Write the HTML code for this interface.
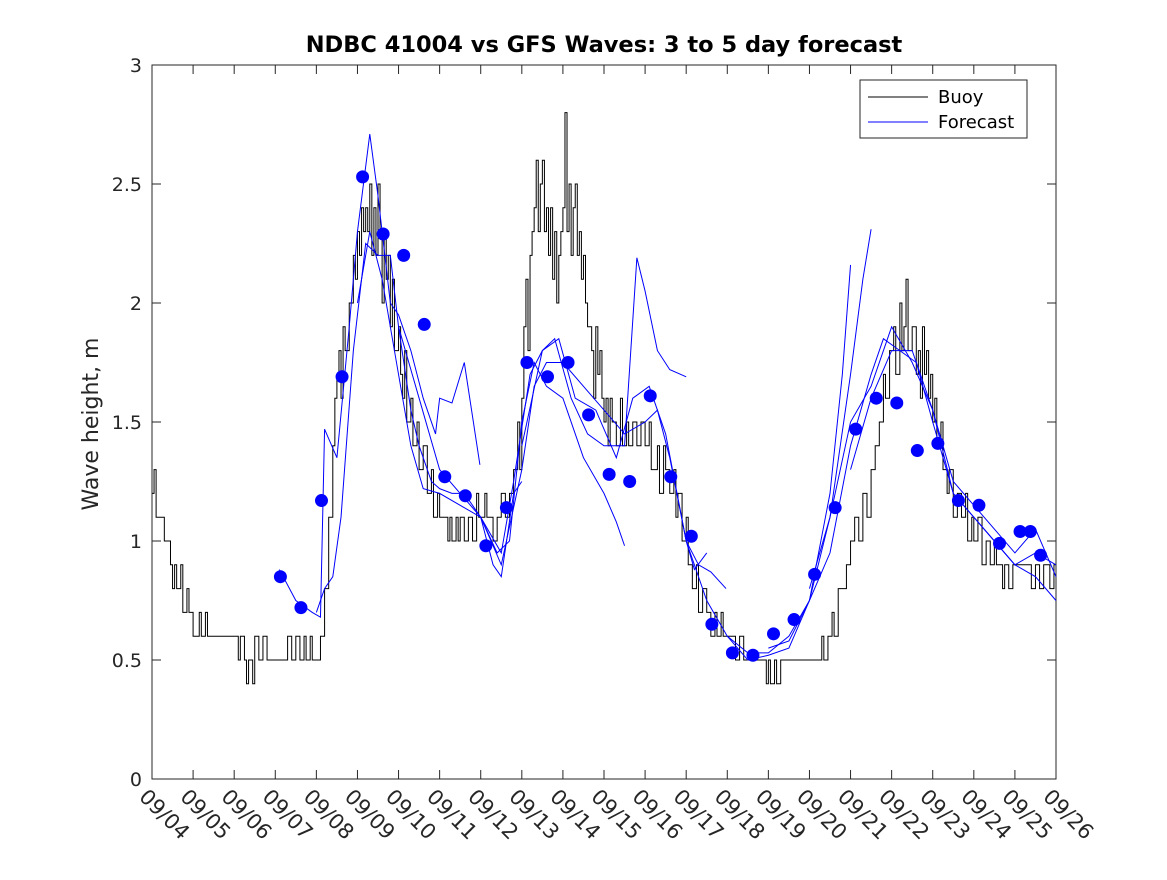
<!DOCTYPE html>
<html><head><meta charset="utf-8"><style>
body{margin:0;background:#fff;}
svg text{font-family:"DejaVu Sans","Liberation Sans",sans-serif;}
</style></head><body>
<svg id="chart" width="1167" height="875" xmlns="http://www.w3.org/2000/svg">
<rect width="1167" height="875" fill="#fff"/>
<text x="604" y="52" text-anchor="middle" font-size="22.5" font-weight="bold">NDBC 41004 vs GFS Waves: 3 to 5 day forecast</text>
<text transform="translate(98,424) rotate(-90)" text-anchor="middle" font-size="22" fill="#262626">Wave height, m</text>
<g id="plot"></g>
</svg>
<script>
const xTickLabels=["09/04","09/05","09/06","09/07","09/08","09/09","09/10","09/11","09/12","09/13","09/14","09/15","09/16","09/17","09/18","09/19","09/20","09/21","09/22","09/23","09/24","09/25","09/26"];
const yTicks=[0,0.5,1,1.5,2,2.5,3];
const buoyPoints=[[0,1.2],[0.05,1.3],[0.1,1.1],[0.3,1.0],[0.45,0.9],[0.5,0.8],[0.55,0.9],[0.6,0.8],[0.7,0.9],[0.75,0.7],[0.85,0.8],[0.9,0.7],[1.0,0.6],[1.15,0.7],[1.2,0.6],[1.3,0.7],[1.35,0.6],[2.0,0.6],[2.1,0.5],[2.15,0.6],[2.25,0.5],[2.3,0.4],[2.35,0.5],[2.45,0.4],[2.5,0.6],[2.6,0.5],[2.7,0.6],[2.8,0.5],[3.2,0.5],[3.3,0.6],[3.4,0.5],[3.5,0.6],[3.6,0.5],[3.7,0.6],[3.75,0.5],[3.85,0.6],[3.9,0.5],[4.1,0.6],[4.2,0.8],[4.3,1.1],[4.4,1.4],[4.45,1.6],[4.5,1.7],[4.55,1.8],[4.6,1.6],[4.65,1.9],[4.7,1.8],[4.8,2.0],[4.9,2.2],[4.95,2.1],[5.0,2.3],[5.05,2.2],[5.1,2.4],[5.15,2.3],[5.2,2.4],[5.25,2.3],[5.3,2.5],[5.35,2.2],[5.4,2.4],[5.45,2.2],[5.5,2.5],[5.55,2.3],[5.6,2.0],[5.65,2.3],[5.7,2.1],[5.75,2.2],[5.8,1.9],[5.85,2.1],[5.9,1.8],[6.0,1.9],[6.05,1.7],[6.1,1.6],[6.15,1.8],[6.2,1.5],[6.3,1.6],[6.35,1.4],[6.45,1.5],[6.5,1.3],[6.6,1.4],[6.7,1.2],[6.8,1.3],[6.85,1.1],[6.95,1.2],[7.0,1.1],[7.2,1.0],[7.25,1.1],[7.3,1.0],[7.4,1.1],[7.45,1.0],[7.5,1.1],[7.6,1.0],[7.7,1.1],[7.8,1.0],[7.9,1.2],[7.95,1.1],[8.1,1.2],[8.15,1.1],[8.3,1.0],[8.4,1.1],[8.5,1.2],[8.6,1.1],[8.7,1.2],[8.8,1.3],[8.9,1.5],[8.95,1.3],[9.0,1.6],[9.05,1.9],[9.1,2.1],[9.15,1.8],[9.2,2.2],[9.25,2.3],[9.3,2.4],[9.35,2.6],[9.4,2.3],[9.45,2.5],[9.5,2.6],[9.55,2.3],[9.6,2.4],[9.65,2.2],[9.7,2.4],[9.75,2.1],[9.8,2.3],[9.85,2.0],[9.9,2.2],[9.95,2.3],[10.0,2.4],[10.05,2.8],[10.1,2.3],[10.15,2.5],[10.2,2.2],[10.25,2.4],[10.3,2.5],[10.35,2.2],[10.4,2.3],[10.45,2.1],[10.5,2.2],[10.55,2.0],[10.6,1.9],[10.7,1.8],[10.75,1.6],[10.8,1.9],[10.85,1.7],[10.9,1.8],[10.95,1.6],[11.0,1.5],[11.05,1.6],[11.1,1.4],[11.15,1.6],[11.2,1.5],[11.3,1.4],[11.4,1.6],[11.45,1.4],[11.55,1.5],[11.6,1.4],[11.7,1.5],[11.8,1.4],[11.9,1.5],[12.0,1.4],[12.1,1.5],[12.15,1.3],[12.3,1.4],[12.35,1.2],[12.45,1.4],[12.5,1.3],[12.6,1.2],[12.7,1.3],[12.75,1.1],[12.8,1.2],[12.9,1.0],[13.0,1.1],[13.05,0.9],[13.15,0.8],[13.25,0.9],[13.3,0.7],[13.4,0.8],[13.5,0.7],[13.6,0.6],[13.7,0.7],[13.75,0.6],[13.85,0.7],[13.9,0.6],[14.2,0.5],[14.3,0.6],[14.4,0.5],[14.9,0.5],[14.95,0.4],[15.0,0.5],[15.05,0.4],[15.15,0.5],[15.2,0.4],[15.3,0.5],[16.25,0.5],[16.3,0.6],[16.35,0.5],[16.45,0.6],[16.55,0.7],[16.6,0.6],[16.7,0.8],[16.9,0.9],[17.0,1.0],[17.1,1.1],[17.2,1.0],[17.3,1.2],[17.4,1.1],[17.5,1.3],[17.6,1.4],[17.7,1.5],[17.8,1.7],[17.85,1.6],[17.95,1.8],[18.05,1.9],[18.1,1.7],[18.2,2.0],[18.25,1.8],[18.3,1.9],[18.35,2.1],[18.4,1.8],[18.5,1.9],[18.6,1.7],[18.65,1.8],[18.7,1.6],[18.75,1.9],[18.8,1.7],[18.85,1.8],[18.9,1.6],[18.95,1.7],[19.0,1.5],[19.05,1.6],[19.1,1.4],[19.2,1.5],[19.25,1.3],[19.35,1.2],[19.4,1.3],[19.5,1.1],[19.6,1.2],[19.7,1.1],[19.8,1.2],[19.85,1.0],[19.95,1.1],[20.0,1.0],[20.1,1.1],[20.2,0.9],[20.3,1.0],[20.4,0.9],[20.5,1.0],[20.55,0.9],[20.7,0.8],[20.75,0.9],[20.85,0.8],[20.95,0.9],[21.1,0.9],[21.3,0.9],[21.4,0.8],[21.5,0.9],[21.6,0.8],[21.7,0.9],[21.85,0.8],[21.95,0.9],[22.0,0.9]];
const dotDays=[3.125,3.625,4.125,4.625,5.125,5.625,6.125,6.625,7.125,7.625,8.125,8.625,9.125,9.625,10.125,10.625,11.125,11.625,12.125,12.625,13.125,13.625,14.125,14.625,15.125,15.625,16.125,16.625,17.125,17.625,18.125,18.625,19.125,19.625,20.125,20.625,21.125,21.375,21.625];
const dotVals=[0.85,0.72,1.17,1.69,2.53,2.29,2.20,1.91,1.27,1.19,0.98,1.14,1.75,1.69,1.75,1.53,1.28,1.25,1.61,1.27,1.02,0.65,0.53,0.52,0.61,0.67,0.86,1.14,1.47,1.60,1.58,1.38,1.41,1.17,1.15,0.99,1.04,1.04,0.94];
const fc1=[[3.1,.88],[3.5,.75],[3.9,.7],[4.1,.68],[4.2,1.47],[4.5,1.35],[4.8,1.9],[5.0,2.3],[5.3,2.71],[5.5,2.45],[5.8,2.0],[6.0,1.95],[6.3,1.8],[6.6,1.6],[6.9,1.45],[7.0,1.6],[7.3,1.58],[7.6,1.75],[7.98,1.32]];
const fc2=[[4.0,0.7],[4.2,0.8],[4.4,0.85],[4.6,1.1],[4.9,1.8],[5.2,2.25],[5.5,2.2],[5.8,2.2],[6.0,1.9],[6.3,1.55],[6.5,1.4],[6.8,1.25],[7.0,1.22],[7.3,1.2],[7.6,1.2],[8.0,1.1],[8.3,0.9],[8.5,0.85],[8.8,1.2],[9.0,1.25]];
const fc3=[[5.0,2.0],[5.3,2.3],[5.6,2.1],[6.0,1.7],[6.3,1.4],[6.6,1.22],[7.0,1.2],[7.5,1.15],[8.0,1.1],[8.4,0.95],[8.7,1.0],[9.0,1.5],[9.3,1.75],[9.6,1.65],[10.0,1.6],[10.5,1.35],[11.0,1.2],[11.3,1.08],[11.5,0.98]];
const fc4=[[6.0,1.9],[6.5,1.6],[7.0,1.3],[7.5,1.2],[8.0,1.1],[8.5,0.95],[8.8,1.25],[9.2,1.7],[9.5,1.8],[9.8,1.85],[10.2,1.6],[10.6,1.45],[11.0,1.4],[11.5,1.4],[11.8,2.19],[12.0,2.05],[12.3,1.8],[12.6,1.72],[13.0,1.69]];
const fc5=[[8.0,1.1],[8.5,0.9],[9.0,1.3],[9.3,1.65],[9.6,1.75],[10.0,1.75],[10.5,1.65],[11.0,1.55],[11.5,1.45],[12.0,1.5],[12.3,1.55],[12.6,1.35],[13.0,1.0],[13.3,0.9],[13.6,0.87],[13.97,0.8]];
const fc6=[[9.0,1.4],[9.5,1.8],[9.9,1.85],[10.3,1.6],[10.8,1.55],[11.3,1.35],[11.7,1.6],[12.1,1.65],[12.5,1.45],[13.0,1.0],[13.2,0.88],[13.5,0.95]];
const fc7=[[13.0,1.0],[13.5,0.75],[14.0,0.6],[14.5,0.53],[15.0,0.53],[15.5,0.6],[16.0,0.75],[16.5,1.2],[16.8,1.7],[17.0,2.16]];
const fc8=[[14.0,0.6],[14.5,0.5],[15.0,0.52],[15.5,0.55],[16.0,0.75],[16.5,1.1],[17.0,1.7],[17.3,2.1],[17.5,2.31]];
const fc9=[[15.0,0.55],[15.5,0.58],[16.0,0.75],[16.5,0.95],[17.0,1.4],[17.5,1.7],[17.8,1.85],[18.2,1.8],[18.6,1.75],[19.0,1.5],[19.5,1.2],[20.0,1.1],[20.5,1.0],[21.0,0.9],[21.5,0.85],[22.0,0.75]];
const fc10=[[16.0,0.8],[16.5,1.1],[17.0,1.5],[17.5,1.65],[18.0,1.9],[18.5,1.75],[19.0,1.55],[19.5,1.25],[20.0,1.15],[20.5,1.05],[21.0,0.95],[21.5,1.05],[22.0,0.85]];
const fc11=[[17.0,1.3],[17.5,1.6],[18.0,1.8],[18.5,1.8],[19.0,1.55],[19.5,1.2],[20.0,1.1],[20.5,1.0],[21.0,0.9],[21.5,0.95],[22.0,0.9]];
const forecasts=[fc1,fc2,fc3,fc4,fc5,fc6,fc7,fc8,fc9,fc10,fc11];

const L=152,R=1056,T=65,B=779;
const xs=d=>L+d/22*(R-L);
const ys=v=>B-v/3*(B-T);
const NS="http://www.w3.org/2000/svg";
const g=document.getElementById('plot');
function mk(tag,attrs,parent){const e=document.createElementNS(NS,tag);for(const k in attrs)e.setAttribute(k,attrs[k]);(parent||g).appendChild(e);return e;}

const frame=mk('rect',{x:L,y:T,width:R-L,height:B-T,fill:'none',stroke:'#262626','stroke-width':1});



xTickLabels.forEach((lab,i)=>{
  const x=xs(i);
  mk('line',{x1:x,y1:B,x2:x,y2:B-9,stroke:'#262626'});
  mk('line',{x1:x,y1:T,x2:x,y2:T+9,stroke:'#262626'});
  const t=mk('text',{x:0,y:0,transform:`translate(${x-14},${B+19}) rotate(45)`,'font-size':21,fill:'#262626'});
  t.textContent=lab;
  
  
});
yTicks.forEach(v=>{
  const y=ys(v);
  mk('line',{x1:L,y1:y,x2:L+9,y2:y,stroke:'#262626'});
  mk('line',{x1:R,y1:y,x2:R-9,y2:y,stroke:'#262626'});
  const t=mk('text',{x:L-10,y:y+7,'text-anchor':'end','font-size':19,fill:'#262626'});
  t.textContent=String(v);
  
  
});

let d='';
buoyPoints.forEach((p,i)=>{
  const x=xs(p[0]),y=ys(p[1]);
  if(i===0)d+=`M${x},${y}`;else d+=`H${x}V${y}`;
});
const bp=mk('path',{d,fill:'none',stroke:'#000','stroke-width':1});



forecasts.forEach(fc=>{
  const p=mk('polyline',{points:fc.map(q=>xs(q[0])+','+ys(q[1])).join(' '),fill:'none',stroke:'#0000ff','stroke-width':1});
  
  
});
dotDays.forEach((day,i)=>{
  const c=mk('circle',{cx:xs(day),cy:ys(dotVals[i]),r:6.5,fill:'#0000ff'});
  
  
});

const lg=mk('g',{});


mk('rect',{x:860,y:80,width:167,height:58,fill:'#fff',stroke:'#262626'},lg);
mk('line',{x1:868,y1:97,x2:928,y2:97,stroke:'#000'},lg);
mk('line',{x1:868,y1:122,x2:928,y2:122,stroke:'#0000ff'},lg);
const t1=mk('text',{x:938,y:103,'font-size':18},lg);t1.textContent='Buoy';


const t2=mk('text',{x:938,y:128,'font-size':18},lg);t2.textContent='Forecast';


</script>
</body></html>
